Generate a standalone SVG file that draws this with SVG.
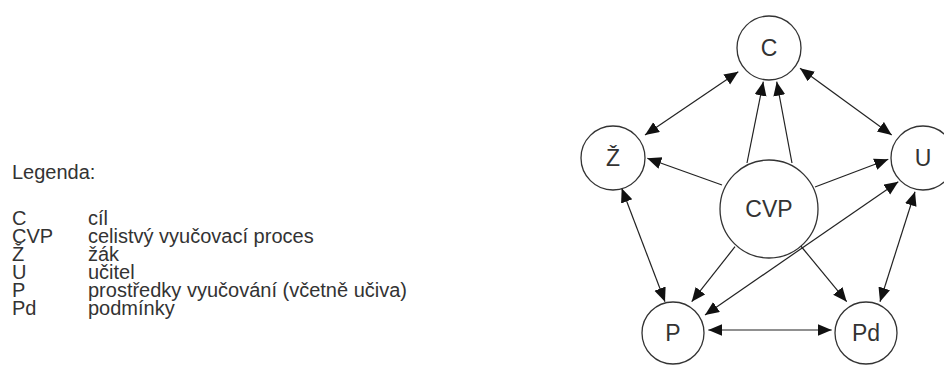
<svg xmlns="http://www.w3.org/2000/svg" width="944" height="367" viewBox="0 0 944 367">
<style>
.leg{font-family:"Liberation Sans",Arial,sans-serif;font-size:20px;fill:#333}
.node circle{fill:#fff;stroke:#333;stroke-width:1.3}
.node text{font-family:"Liberation Sans",Arial,sans-serif;font-size:23px;fill:#333;text-anchor:middle;dominant-baseline:central}
.conn line{stroke:#222;stroke-width:1.2}
</style>
<defs>
<marker id="ah" markerUnits="userSpaceOnUse" markerWidth="16" markerHeight="14" refX="14" refY="6" orient="auto-start-reverse">
<path d="M0,0 L14,6 L0,12 z" fill="#111"/>
</marker>
</defs>
<rect width="944" height="367" fill="#fff"/>
<g id="legend">
<text class="leg" x="12" y="179">Legenda:</text>
<text class="leg" x="12" y="225">C</text><text class="leg" x="88" y="225">cíl</text>
<text class="leg" x="12" y="243">CVP</text><text class="leg" x="88" y="243">celistvý vyučovací proces</text>
<text class="leg" x="12" y="261">Ž</text><text class="leg" x="88" y="261">žák</text>
<text class="leg" x="12" y="279">U</text><text class="leg" x="88" y="279">učitel</text>
<text class="leg" x="12" y="297">P</text><text class="leg" x="88" y="297">prostředky vyučování (včetně učiva)</text>
<text class="leg" x="12" y="315">Pd</text><text class="leg" x="88" y="315">podmínky</text>
</g>
<g id="connectors" class="conn">
<line x1="738.3" y1="71.7" x2="645" y2="135" marker-start="url(#ah)" marker-end="url(#ah)"/>
<line x1="800" y1="68.3" x2="891.7" y2="135" marker-start="url(#ah)" marker-end="url(#ah)"/>
<line x1="747" y1="163" x2="763.3" y2="81.7" marker-end="url(#ah)"/>
<line x1="792" y1="163" x2="776.7" y2="81.7" marker-end="url(#ah)"/>
<line x1="722" y1="185" x2="647.3" y2="158.3" marker-end="url(#ah)"/>
<line x1="815" y1="187" x2="888.3" y2="159.3" marker-end="url(#ah)"/>
<line x1="621.7" y1="188.3" x2="665" y2="301.7" marker-start="url(#ah)" marker-end="url(#ah)"/>
<line x1="915" y1="191.7" x2="880" y2="301.7" marker-start="url(#ah)" marker-end="url(#ah)"/>
<line x1="735" y1="246.7" x2="691.7" y2="301.7" marker-end="url(#ah)"/>
<line x1="800" y1="245" x2="846.7" y2="301.7" marker-end="url(#ah)"/>
<line x1="705" y1="315" x2="898.3" y2="181.7" marker-start="url(#ah)" marker-end="url(#ah)"/>
<line x1="708.3" y1="330" x2="831.7" y2="330" marker-start="url(#ah)" marker-end="url(#ah)"/>
</g>
<g id="node-C" class="node"><circle cx="769" cy="48" r="32"/><text x="769" y="48">C</text></g>
<g id="node-Z" class="node"><circle cx="613" cy="158" r="32"/><text x="613" y="158">Ž</text></g>
<g id="node-U" class="node"><circle cx="923" cy="158" r="32"/><text x="923" y="158">U</text></g>
<g id="node-CVP" class="node"><circle cx="769" cy="209" r="49"/><text x="769" y="209">CVP</text></g>
<g id="node-P" class="node"><circle cx="673" cy="333" r="31"/><text x="673" y="333">P</text></g>
<g id="node-Pd" class="node"><circle cx="866" cy="333" r="31"/><text x="866" y="333">Pd</text></g>
</svg>
